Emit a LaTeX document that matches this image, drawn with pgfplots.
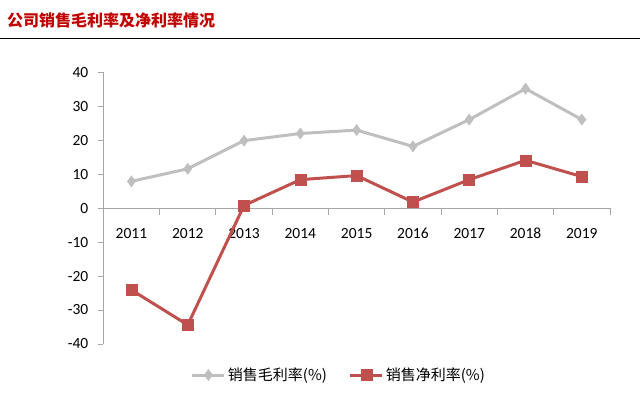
\documentclass[border=0pt]{standalone}
\usepackage{pgfplots}
\pgfplotsset{compat=1.18}
\usepackage{fontspec}
\setmainfont{Carlito}
\newfontfamily\cjk{Noto Sans CJK SC}
\definecolor{grossc}{HTML}{BFBFBF}
\definecolor{netc}{HTML}{C0504D}
\definecolor{titlec}{HTML}{C00000}
\begin{document}
\begin{tikzpicture}
\useasboundingbox (0,0) rectangle (640pt,-405pt);
\node[anchor=west, inner sep=0pt, text=titlec, font=\cjk\bfseries\fontsize{16}{16}\selectfont] at (7pt,-20pt) {公司销售毛利率及净利率情况};
\draw[line width=1.5pt] (0,-38.5pt) -- (640pt,-38.5pt);
\begin{axis}[
  at={(103.3pt,-343.9pt)}, anchor=south west,
  scale only axis, width=506.7pt, height=271.5pt,
  xmin=-0.5, xmax=8.5, ymin=-40, ymax=40,
  axis y line*=left, axis x line*=middle,
  axis line style={draw=gray!70, line width=0.8pt},
  tick style={draw=gray!70, line width=0.8pt},
  tick align=outside,
  xtick={0,...,8},
  xticklabels={2011,2012,2013,2014,2015,2016,2017,2018,2019},
  minor xtick={-0.5,0.5,...,8.5},
  major x tick style={draw=none},
  minor tick length=7pt,
  major tick length=5.5pt,
  ytick={-40,-30,...,40},
  font=\fontsize{15.5}{15.5}\selectfont,
  /pgf/number format/assume math mode=true,
  xticklabel style={yshift=-11pt},
  yticklabel style={anchor=east, xshift=-6pt},
  legend style={draw=none, fill=none, at={(0.465,-0.1146)}, anchor=center,
    legend columns=2, font=\cjk\fontsize{15}{15}\selectfont,
    /tikz/every even column/.append style={column sep=20pt}},
  legend image code/.code={\draw[mark repeat=2,mark phase=2,#1] plot coordinates {(0pt,0pt) (16pt,0pt) (32pt,0pt)};},
]
\addplot[color=grossc, line width=3pt, mark=diamond*, mark size=5.5pt, mark options={line width=0.5pt, fill=grossc}]
  coordinates {(0,7.9) (1,11.6) (2,19.9) (3,22.0) (4,23.0) (5,18.2) (6,26.1) (7,35.2) (8,26.1)};
\addlegendentry{销售毛利率(\%)}
\addplot[color=netc, line width=3pt, mark=square*, mark size=5.5pt, mark options={line width=0.5pt, fill=netc}]
  coordinates {(0,-24.1) (1,-34.4) (2,0.8) (3,8.4) (4,9.6) (5,1.8) (6,8.4) (7,14.1) (8,9.3)};
\addlegendentry{销售净利率(\%)}
\end{axis}
\end{tikzpicture}
\end{document}
